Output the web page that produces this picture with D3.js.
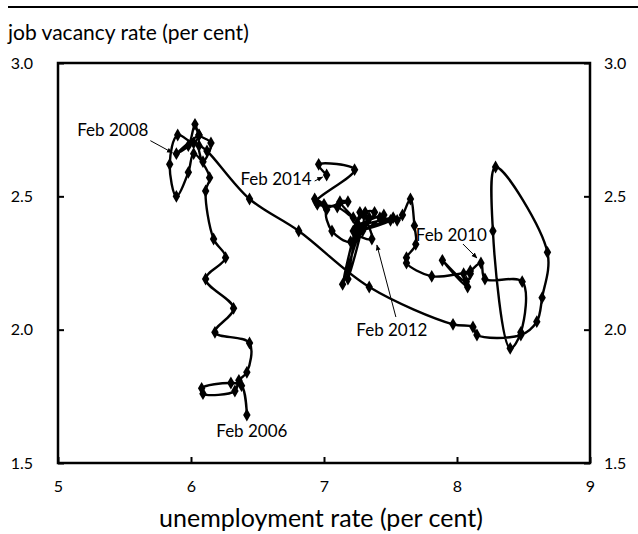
<!DOCTYPE html>
<html>
<head>
<meta charset="utf-8">
<script src="https://cdn.jsdelivr.net/npm/d3@7/dist/d3.min.js"></script>
<style>
  body { margin: 0; background: #fff; }
  svg text { font-family: Lato, "Open Sans", sans-serif; fill: #000; }
</style>
</head>
<body>
<div id="chart"></div>
<script>
// unemployment rate (per cent), monthly Feb 2006 .. Feb 2014
var unemployment = [
  6.42, 6.38, 6.30, 6.08, 6.09, 6.33, 6.36, 6.42, 6.44, 6.18, 6.32,
  6.11, 6.26, 6.17, 6.11, 6.14, 6.02, 5.98, 5.89, 5.84, 5.90, 6.02, 6.06,
  5.89, 5.98, 6.03, 6.06, 6.15, 6.09, 6.06, 6.12, 6.44, 6.81,
  7.34, 7.97, 8.12, 8.15, 8.48, 8.60, 8.64, 8.68, 8.29, 8.27, 8.40, 8.48,
  8.49, 8.21, 8.18, 8.10, 8.05, 8.08, 7.89, 8.07, 8.10, 7.81, 7.62, 7.62, 7.69,
  7.68, 7.65, 7.59, 7.55, 7.42, 7.50, 7.26, 7.52, 7.25, 7.45, 7.29, 7.38,
  7.31, 7.36, 7.22, 7.30, 7.18, 7.25, 7.14, 7.28, 7.34, 7.24, 7.27, 7.20,
  7.06, 7.02, 7.18, 7.12, 7.22, 7.10, 6.95, 6.93, 7.00, 6.94, 7.23, 6.96,
  7.02
];
// job vacancy rate (per cent), same months
var vacancy = [
  1.68, 1.79, 1.80, 1.78, 1.76, 1.77, 1.81, 1.84, 1.95, 1.99, 2.08,
  2.19, 2.27, 2.34, 2.52, 2.57, 2.66, 2.59, 2.50, 2.62, 2.73, 2.70, 2.73,
  2.66, 2.69, 2.77, 2.73, 2.70, 2.63, 2.69, 2.67, 2.49, 2.37,
  2.16, 2.02, 2.01, 1.98, 1.98, 2.03, 2.12, 2.29, 2.61, 2.37, 1.93, 1.99,
  2.18, 2.19, 2.25, 2.22, 2.21, 2.16, 2.26, 2.18, 2.21, 2.20, 2.25, 2.27, 2.32,
  2.39, 2.49, 2.43, 2.41, 2.42, 2.41, 2.37, 2.42, 2.39, 2.43, 2.37, 2.44,
  2.44, 2.34, 2.37, 2.43, 2.19, 2.40, 2.17, 2.38, 2.42, 2.36, 2.44, 2.33,
  2.37, 2.45, 2.48, 2.48, 2.42, 2.46, 2.47, 2.49, 2.47, 2.48, 2.60, 2.62,
  2.58
];

var xTicks = [5, 6, 7, 8, 9];
var yTicks = [1.5, 2.0, 2.5, 3.0];

// labelled months: text and which point it refers to
var labelText = ["Feb 2006", "Feb 2008", "Feb 2010", "Feb 2012", "Feb 2014"];
var labelIndex = [0, 23, 47, 71, 94];

var width = 638;
var height = 534;
var margin = {top: 63, right: 48, bottom: 71, left: 58};

var svg = d3.select("#chart").append("svg")
  .attr("width", width)
  .attr("height", height);

var xScale = d3.scaleLinear().domain([5, 9]).range([margin.left, width - margin.right]);
var yScale = d3.scaleLinear().domain([1.5, 3.0]).range([height - margin.bottom, margin.top]);

var points = unemployment.map(function (u, i) { return {u: u, v: vacancy[i]}; });

/* top rule and title */
svg.append("line")
  .attr("x1", 8).attr("x2", width)
  .attr("y1", 7).attr("y2", 7)
  .attr("stroke", "#000").attr("stroke-width", 2);

svg.append("text")
  .attr("x", 8).attr("y", 40)
  .style("font-size", "21px")
  .text("job vacancy rate (per cent)");

/* axes */
var fmt = d3.format(".1f");
var xAxis = d3.axisBottom(xScale).tickValues(xTicks).tickFormat(d3.format("d"))
  .tickSizeInner(-6).tickSizeOuter(0).tickPadding(18);
var yLeft = d3.axisLeft(yScale).tickValues(yTicks).tickFormat(fmt).tickSizeInner(-6).tickSizeOuter(0).tickPadding(25);
var yRight = d3.axisRight(yScale).tickValues(yTicks).tickFormat(fmt).tickSizeInner(-6).tickSizeOuter(0).tickPadding(14);

function styleAxis(g) {
  g.select(".domain").remove();
  g.selectAll("line").attr("stroke", "#000").attr("stroke-width", 2);
  g.selectAll("text").style("font-size", "16px").attr("font-family", null);
}

svg.append("g")
  .attr("transform", "translate(0," + yScale(1.5) + ")")
  .call(xAxis).call(styleAxis);
svg.append("g")
  .attr("transform", "translate(" + xScale(5) + ",0)")
  .call(yLeft).call(styleAxis);
svg.append("g")
  .attr("transform", "translate(" + xScale(9) + ",0)")
  .call(yRight).call(styleAxis);

svg.append("rect")
  .attr("x", xScale(5)).attr("y", yScale(3))
  .attr("width", xScale(9) - xScale(5))
  .attr("height", yScale(1.5) - yScale(3))
  .attr("fill", "none")
  .attr("stroke", "#000")
  .attr("stroke-width", 2.5);

svg.append("text")
  .attr("x", (xScale(5) + xScale(9)) / 2 - 3)
  .attr("y", 527)
  .attr("text-anchor", "middle")
  .style("font-size", "25px")
  .text("unemployment rate (per cent)");

/* the curve */
var line = d3.line()
  .x(d => xScale(d.u))
  .y(d => yScale(d.v))
  .curve(d3.curveCatmullRom.alpha(0.5));

svg.append("path")
  .datum(points)
  .attr("d", line)
  .attr("fill", "none")
  .attr("stroke", "#000")
  .attr("stroke-width", 2.4)
  .attr("stroke-linejoin", "round");

var diamond = d3.symbol().type(d3.symbolDiamond).size(48);
svg.selectAll(".pt")
  .data(points).enter()
  .append("path")
  .attr("class", "pt")
  .attr("d", diamond)
  .attr("transform", d => "translate(" + xScale(d.u) + "," + yScale(d.v) + ")")
  .attr("fill", "#000");

/* annotations: text offset and arrow relative to the labelled point */
var labelLayout = [
  {dx: 5, dy: 22, anchor: "middle", arrow: null},
  {dx: -28, dy: -18, anchor: "end", arrow: [[-26, -13], [-4, -1]]},
  {dx: 6, dy: -22, anchor: "end", arrow: [[-18, -19], [-4, -5]]},
  {dx: 20, dy: 97, anchor: "middle", arrow: [[24, 78], [5, 6]]},
  {dx: -15, dy: 10, anchor: "end", arrow: [[-12, 6], [-4, 2]]}
];

var defs = svg.append("defs");
defs.append("marker")
  .attr("id", "arrow")
  .attr("viewBox", "0 0 10 10")
  .attr("refX", 9).attr("refY", 5)
  .attr("markerWidth", 6).attr("markerHeight", 6)
  .attr("orient", "auto")
  .append("path")
  .attr("d", "M0,1 L10,5 L0,9 z")
  .attr("fill", "#000");

labelText.forEach(function (t, i) {
  var p = points[labelIndex[i]];
  var px = xScale(p.u), py = yScale(p.v);
  var lay = labelLayout[i];
  svg.append("text")
    .attr("x", px + lay.dx)
    .attr("y", py + lay.dy)
    .attr("text-anchor", lay.anchor)
    .style("font-size", "17px")
    .text(t);
  if (lay.arrow) {
    svg.append("line")
      .attr("x1", px + lay.arrow[0][0]).attr("y1", py + lay.arrow[0][1])
      .attr("x2", px + lay.arrow[1][0]).attr("y2", py + lay.arrow[1][1])
      .attr("stroke", "#000")
      .attr("stroke-width", 1)
      .attr("marker-end", "url(#arrow)");
  }
});
</script>
</body>
</html>
